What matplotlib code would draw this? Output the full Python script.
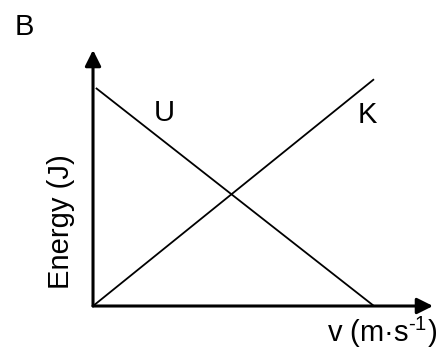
import matplotlib
matplotlib.use("Agg")
import matplotlib.pyplot as plt

plt.rcParams['font.family'] = ['Liberation Sans', 'DejaVu Sans']
plt.rcParams['mathtext.fontset'] = 'custom'
plt.rcParams['mathtext.rm'] = 'Liberation Sans'
plt.rcParams['mathtext.it'] = 'Liberation Sans'

# speed (arbitrary units) and energies
v_u = [0.01, 1.0]
U = [1.0, 0.0]
v_k = [0.0, 1.0]
K = [0.0, 1.04]

fig = plt.figure(figsize=(4.4, 3.49), dpi=100)
ax = fig.add_axes([0.2114, 0.1232, 0.7727, 0.7335])
ax.set_xlim(0, 1.21)
ax.set_ylim(0, 1.174)
ax.axis('off')

ax.plot(v_u, U, color='black', lw=1.3, solid_capstyle='butt')
ax.plot(v_k, K, color='black', lw=1.3, solid_capstyle='butt')

# axes drawn as arrows
arrow = dict(arrowstyle='-|>', lw=2.2, color='black', mutation_scale=24,
             shrinkA=0, shrinkB=0)
ax.annotate('', xy=(1.21, 0), xytext=(0, 0), arrowprops=arrow, annotation_clip=False)
ax.annotate('', xy=(0, 1.174), xytext=(0, 0), arrowprops=arrow, annotation_clip=False)

ax.text(0.253, 0.885, 'U', fontsize=21, ha='center', va='center')
ax.text(0.975, 0.876, 'K', fontsize=21, ha='center', va='center')

fig.text(0.0545, 0.923, 'B', fontsize=21, ha='center', va='center')
fig.text(0.139, 0.365, 'Energy (J)', fontsize=21, rotation=90, ha='center', va='center')
fig.text(0.868, 0.047, 'v (m·s$^{\\text{-1}}$)', fontsize=21, ha='center', va='center')

fig.savefig('out.png', dpi=100)
